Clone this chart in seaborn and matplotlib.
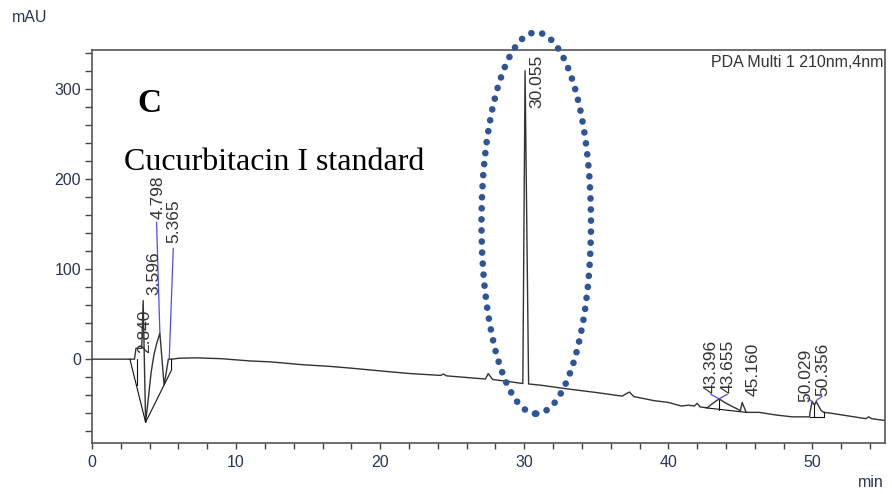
import matplotlib
matplotlib.use("Agg")
import matplotlib.pyplot as plt
import seaborn as sns
import pandas as pd
from matplotlib.patches import Ellipse
from matplotlib.ticker import MultipleLocator
from matplotlib import font_manager

# ---------------- data ----------------
time_min = [0.0, 2.63, 2.95, 3.05, 3.45, 3.55, 3.72, 3.9, 4.1, 4.3, 4.5, 4.71,
            5.0, 5.1, 5.3, 5.55, 6.0, 7.2, 9.0, 11.0, 12.4, 14.5, 16.5, 18.0,
            20.0, 22.1, 24.2, 24.4, 24.6, 26.5, 27.3, 27.5, 27.8, 29.0, 29.9,
            30.055, 30.3, 31.2, 33.0, 35.0, 36.8, 37.0, 37.3, 37.6, 39.0, 40.0,
            40.9, 41.4, 41.8, 42.0, 42.2, 42.7, 43.0, 43.52, 43.9, 44.5, 45.0,
            45.12, 45.4, 46.3, 47.5, 48.6, 49.8, 49.82, 49.98, 50.14, 50.26,
            50.6, 50.8, 51.3, 52.5, 53.7, 53.9, 54.1, 55.0]
signal_mau = [0, 0, 0, 12, 12, 65, -70, -45, -15, 5, 18, 29,
              -28, -20, 0, 0, 1, 1.5, 0.5, -2, -3, -6, -8, -10,
              -13, -16, -18, -16.5, -18.5, -21, -22, -16, -22.5, -25, -27,
              320, -27.5, -29, -33, -37, -41, -39, -36.5, -41.5, -46, -48,
              -52, -51, -52, -49, -53, -54, -50, -44, -48, -53, -57,
              -48, -59, -59, -62, -64, -64, -60, -47, -51, -47,
              -57, -59, -60, -63, -66, -64, -66, -68]

peak_labels = ["2.840", "3.596", "4.798", "5.365", "30.055",
               "43.396", "43.655", "45.160", "50.029", "50.356"]
label_x = [3.65, 4.30, 4.58, 5.65, 30.90, 42.97, 44.15, 45.85, 49.55, 50.73]
label_bottom = [7, 71, 156, 129, 279, -37, -37, -41, -48, -41]

leader_x0 = [4.48, 5.64, 42.94, 44.09, 49.64, 50.68]
leader_y0 = [152, 123, -39, -39, -43, -41]
leader_x1 = [4.71, 5.36, 43.52, 43.52, 49.98, 50.26]
leader_y1 = [29, 0, -44, -44, -47, -46]

integ_x = [[2.63, 3.72], [3.72, 5.52, 5.52], [3.09, 3.09],
           [42.62, 45.4], [43.52, 43.52], [49.8, 50.8], [50.14, 50.14], [50.8, 50.8]]
integ_y = [[0, -70], [-70, -12, 0], [0, -29],
           [-54, -59], [-44, -56], [-64, -64], [-51, -64], [-59, -64]]

ellipse_center = (30.83, 151)
ellipse_size = (7.6, 423)

# ---------------- styling ----------------
sns.set_style("ticks")
names = {f.name for f in font_manager.fontManager.ttflist}
narrow = "Liberation Sans Narrow" in names
sans = ["Liberation Sans Narrow", "Liberation Sans", "DejaVu Sans"] if narrow else ["Liberation Sans", "DejaVu Sans"]
fs = 14 if narrow else 11.5
fs_peak = 14 if narrow else 12.5
plt.rcParams["font.family"] = sans

txt_col = "#2b3553"
fig = plt.figure(figsize=(8.92, 4.94), dpi=100)
ax = fig.add_axes([92 / 892, 51 / 494, 792.5 / 892, 393 / 494])

df = pd.DataFrame({"time": time_min, "mAU": signal_mau})
sns.lineplot(data=df, x="time", y="mAU", ax=ax, sort=False, estimator=None,
             color="#333333", linewidth=1.0, zorder=3)

for xs, ys in zip(integ_x, integ_y):
    ax.plot(xs, ys, color="#111111", linewidth=0.8, zorder=3)

for x0, y0, x1, y1 in zip(leader_x0, leader_y0, leader_x1, leader_y1):
    ax.plot([x0, x1], [y0, y1], color="#4a4aff", linewidth=0.9, zorder=3)

for lab, lx, ly in zip(peak_labels, label_x, label_bottom):
    ax.text(lx, ly, lab, rotation=90, ha="center", va="bottom",
            fontsize=fs_peak, color="#333333", zorder=4)

ell = Ellipse(ellipse_center, ellipse_size[0], ellipse_size[1], fill=False,
              edgecolor="#2F5597", linewidth=4.8, linestyle=(0, (0.01, 1.65)),
              capstyle="round", clip_on=False, zorder=5)
ax.add_patch(ell)

ax.text(3.12, 274, "C", fontsize=24, fontweight="bold",
        family=["Liberation Serif", "DejaVu Serif"], color="black")
ax.text(2.22, 210, "Cucurbitacin I standard", fontsize=23,
        family=["Liberation Serif", "DejaVu Serif"], color="black")
ax.text(0.999, 0.969, "PDA Multi 1 210nm,4nm", transform=ax.transAxes,
        ha="right", va="center", fontsize=fs, color="#333333")

fig.text(12 / 892, 1 - 18 / 494, "mAU", ha="left", va="center", fontsize=fs, color=txt_col)
fig.text(884 / 892, 1 - 482 / 494, "min", ha="right", va="center", fontsize=fs, color=txt_col)

ax.set_xlim(0, 55)
ax.set_ylim(-93, 343)
ax.set_xlabel("")
ax.set_ylabel("")
ax.xaxis.set_major_locator(MultipleLocator(10))
ax.xaxis.set_minor_locator(MultipleLocator(2))
ax.yaxis.set_major_locator(MultipleLocator(100))
ax.yaxis.set_minor_locator(MultipleLocator(20))
ax.tick_params(axis="both", which="both", direction="out", color="#444444",
               width=1.0, labelcolor=txt_col, labelsize=fs)
ax.tick_params(axis="y", which="both", length=5, pad=3)
ax.tick_params(axis="x", which="both", length=4.5, pad=4)
for s in ax.spines.values():
    s.set_visible(True)
    s.set_color("#555555")
    s.set_linewidth(1.2)

fig.savefig("out.png", dpi=100)
